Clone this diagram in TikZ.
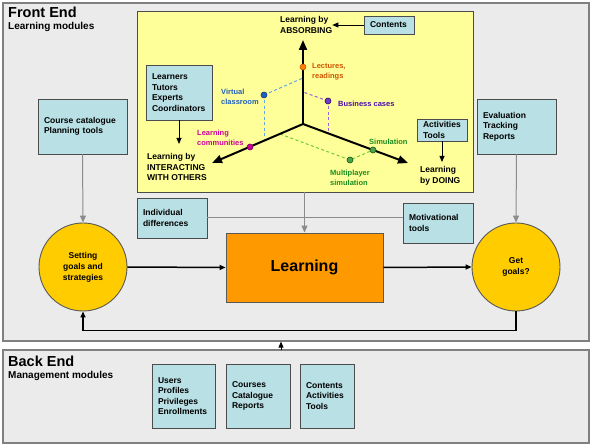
\documentclass[tikz,border=0pt]{standalone}
\usepackage{fontspec}
\setmainfont{Liberation Sans}
\usetikzlibrary{arrows.meta, positioning}
\definecolor{panelbg}{HTML}{EBEBEB}
\definecolor{panelline}{HTML}{808080}
\definecolor{paleyellow}{HTML}{FFFF99}
\definecolor{paleblue}{HTML}{B9E0E4}
\definecolor{learnorange}{HTML}{FF9900}
\definecolor{goalgold}{HTML}{FFCC00}
\definecolor{linkgray}{HTML}{8C8C8C}
\definecolor{lectcol}{HTML}{CC5500}
\definecolor{virtcol}{HTML}{1F5FBF}
\definecolor{virtdash}{HTML}{5FA8E0}
\definecolor{buscol}{HTML}{4B0BB0}
\definecolor{busdash}{HTML}{A060D8}
\definecolor{commcol}{HTML}{CC0099}
\definecolor{simcol}{HTML}{1E8C1E}
\definecolor{simdash}{HTML}{6CCB3C}

\begin{document}
\begin{tikzpicture}[
  x=1pt, y=-1pt,
  panel/.style={draw=panelline, fill=panelbg, line width=1.2pt, inner sep=0pt},
  box/.style={draw=black!70, fill=paleblue, line width=0.9pt, align=left, inner xsep=6pt, inner ysep=0pt, font=\fontsize{8.5}{10.5}\selectfont\bfseries},
  goal/.style={circle, draw=black!65, fill=goalgold, line width=0.9pt, minimum size=88pt, inner sep=0pt, align=center, font=\fontsize{8.5}{11}\selectfont\bfseries},
  axlabel/.style={align=left, inner sep=0pt, anchor=west, font=\fontsize{8.5}{10.5}\selectfont\bfseries},
  ptlabel/.style={align=left, inner sep=0pt, anchor=west, font=\fontsize{7.5}{10}\selectfont\bfseries},
  dot/.style={circle, inner sep=0pt, minimum size=6pt, line width=0.6pt},
  title/.style={inner sep=0pt, anchor=north west, font=\fontsize{14.5}{16}\selectfont\bfseries},
  subtitle/.style={inner sep=0pt, font=\fontsize{10}{12}\selectfont\bfseries},
  axis/.style={-{Triangle[length=10pt, width=8pt]}, line width=2pt},
  arr/.style={-{Triangle[length=6pt, width=5pt]}, line width=1.5pt},
  thinarr/.style={-{Triangle[length=6pt, width=5pt]}, line width=0.8pt},
  garr/.style={-{Triangle[length=7pt, width=6pt]}, line width=1pt, color=linkgray},
  gline/.style={line width=1pt, color=linkgray},
  dashedline/.style={dash pattern=on 3pt off 2.5pt, line width=1pt}
]
\useasboundingbox (0,0) rectangle (592,446);

% frames
\node[panel, minimum width=586pt, minimum height=338pt] (front) at (296,172) {};
\node[panel, minimum width=586pt, minimum height=93pt] (back) at (296,396.5) {};
\node[title] (fetitle) at (8,7) {Front End};
\node[subtitle, below=4pt of fetitle.south west, anchor=north west] (fesub) {Learning modules};
\node[title] (betitle) at (8,356) {Back End};
\node[subtitle, below=4pt of betitle.south west, anchor=north west] (besub) {Management modules};

% learning space
\node[draw=black!70, fill=paleyellow, line width=0.9pt, minimum width=336pt, minimum height=181pt, inner sep=0pt] (space) at (305,101.5) {};

\coordinate (orig) at (303,124);
\coordinate (absorbtip) at (303,40);
\coordinate (interacttip) at (212,163);
\coordinate (doingtip) at (408,163);

\draw[virtdash, dashedline] (264,95) -- (303,78);
\draw[virtdash, dashedline] (264,95) -- (264,140);
\draw[busdash, dashedline] (328,101) -- (303,92);
\draw[busdash, dashedline] (328,101) -- (328,133);
\draw[simdash, dashedline] (280,134) -- (350,160) -- (373,150);

\draw[axis] (orig) -- (absorbtip);
\draw[axis] (orig) -- (interacttip);
\draw[axis] (orig) -- (doingtip);

\node[dot, fill=orange, draw=lectcol] (lect) at (303,67) {};
\node[dot, fill=virtcol, draw=virtcol!60!black] (virt) at (264,95) {};
\node[dot, fill=buscol!80, draw=buscol!60!black] (bus) at (328,101) {};
\node[dot, fill=commcol, draw=commcol!60!black] (comm) at (250,147) {};
\node[dot, fill=simcol!80, draw=simcol!60!black] (multi) at (350,160) {};
\node[dot, fill=simcol!80, draw=simcol!60!black] (sim) at (373,150) {};

\node[ptlabel, text=lectcol] (lectlab) at (312,72) {Lectures,\\readings};
\node[ptlabel, text=virtcol] (virtlab) at (221,97) {Virtual\\classroom};
\node[ptlabel, text=buscol] (buslab) at (338,104) {Business cases};
\node[ptlabel, text=commcol] (commlab) at (197,138) {Learning\\communities};
\node[ptlabel, text=simcol] (simlab) at (369,142) {Simulation};
\node[ptlabel, text=simcol] (multilab) at (330,178) {Multiplayer\\simulation};

\node[axlabel] (absorb) at (280,25) {Learning by\\ABSORBING};
\node[axlabel] (interact) at (147,167) {Learning by\\INTERACTING\\WITH OTHERS};
\node[axlabel] (doing) at (420,176) {Learning\\by DOING};

\node[box, text width=38pt, minimum height=18pt] (contents) at (389,25) {Contents};
\node[box, text width=54pt, minimum height=55pt] (actors) at (179,92.5) {Learners\\Tutors\\Experts\\Coordinators};
\node[box, text width=38pt, minimum height=22pt] (acttools) at (442,130) {Activities\\Tools};

\draw[thinarr] (contents.west) -- (absorb.east);
\draw[thinarr] (actors.south) -- (actors.south |- 0,144);
\draw[thinarr] (acttools.south) -- (acttools.south |- 0,162);

% main loop
\node[box, text width=77pt, minimum height=55pt] (catalog) at (82.5,126.5) {Course catalogue\\Planning tools};
\node[box, text width=67pt, minimum height=55pt] (evaluation) at (516.5,126.5) {Evaluation\\Tracking\\Reports};
\node[box, text width=58pt, minimum height=40pt] (indiv) at (172,218) {Individual\\differences};
\node[box, text width=58pt, minimum height=40pt] (motiv) at (438,223) {Motivational\\tools};

\node[goal] (setgoals) at (83,267) {Setting\\goals and\\strategies};
\node[goal] (getgoals) at (516,267) {Get\\goals?};
\node[draw=black!65, fill=learnorange, line width=0.9pt, minimum width=157pt, minimum height=69pt, font=\fontsize{16}{18}\selectfont\bfseries] (learning) at (304.5,267.5) {Learning};

\draw[gline] (indiv.east) -- (indiv.east -| motiv.west);
\draw[garr] (catalog.south) -- (setgoals.north);
\draw[garr] (evaluation.south) -- (getgoals.north);
\draw[garr] (space.south -| learning.north) -- (learning.north);
\draw[arr] (setgoals.east) -- (learning.west);
\draw[arr] (learning.east) -- (getgoals.west);
\draw[arr] (getgoals.south) -- ++(0,19) -| (setgoals.south);

\coordinate (link) at (281,350);
\draw[-{Triangle[length=6pt, width=5pt]}, line width=0.8pt] (link) -- (link |- front.south);

% back end modules
\node[box, text width=51pt, minimum height=64pt] (users) at (183.5,396) {Users\\Profiles\\Privileges\\Enrollments};
\node[box, text width=52pt, minimum height=64pt] (courses) at (258,396) {Courses\\Catalogue\\Reports};
\node[box, text width=42pt, minimum height=64pt] (modcontents) at (327,396) {Contents\\Activities\\Tools};
\end{tikzpicture}
\end{document}
